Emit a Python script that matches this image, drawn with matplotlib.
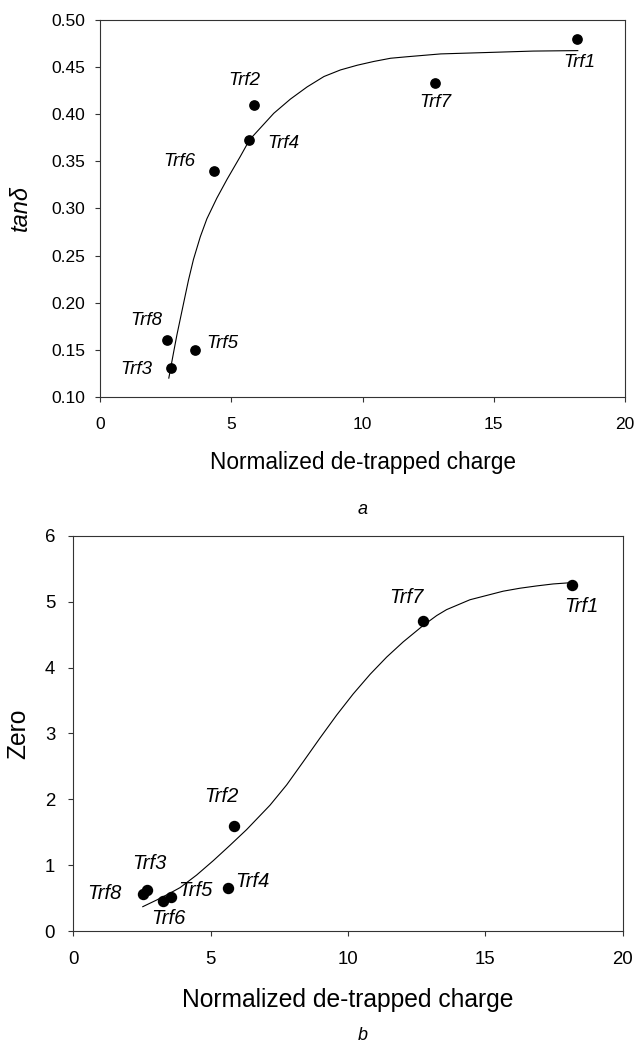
import matplotlib
matplotlib.use("Agg")
import matplotlib.pyplot as plt

plt.rcParams['font.family'] = ['Liberation Sans', 'DejaVu Sans']

# ---- panel a : tan delta ----
names = ["Trf1", "Trf2", "Trf3", "Trf4", "Trf5", "Trf6", "Trf7", "Trf8"]
charge_a = [18.17, 5.88, 2.71, 5.69, 3.60, 4.33, 12.76, 2.57]
tand = [0.480, 0.410, 0.131, 0.373, 0.150, 0.340, 0.4335, 0.160]

# fitted curve
fit_a_x = [2.62, 2.80, 2.93, 3.21, 3.37, 3.56, 3.82, 4.07, 4.45, 4.84, 5.34,
           5.70, 6.62, 7.25, 7.89, 8.53, 9.16, 9.80, 10.43, 11.07, 11.70,
           12.98, 14.76, 16.50, 18.20]
fit_a_y = [0.120, 0.147, 0.166, 0.203, 0.224, 0.246, 0.270, 0.289, 0.311,
           0.331, 0.355, 0.373, 0.401, 0.416, 0.429, 0.440, 0.447, 0.452,
           0.456, 0.4594, 0.461, 0.464, 0.4655, 0.467, 0.4675]

# label positions (text centre) for panel a
lab_a_x = [18.26, 5.50, 1.40, 6.97, 4.64, 3.03, 12.76, 1.78]
lab_a_y = [0.4547, 0.4353, 0.129, 0.369, 0.157, 0.350, 0.4127, 0.181]

# ---- panel b : Zero ----
charge_b = [18.17, 5.85, 2.67, 5.62, 3.56, 3.28, 12.74, 2.53]
zero = [5.254, 1.60, 0.624, 0.659, 0.519, 0.455, 4.712, 0.556]

fit_b_x = [2.53, 3.03, 3.52, 3.89, 4.49, 5.10, 5.70, 6.31, 7.16, 7.77, 8.37,
           8.98, 9.59, 10.19, 10.81, 11.41, 12.01, 12.74, 13.23, 13.59,
           14.44, 15.65, 16.26, 16.87, 17.47, 18.14]
fit_b_y = [0.37, 0.47, 0.575, 0.66, 0.85, 1.07, 1.30, 1.54, 1.91, 2.22, 2.57,
           2.93, 3.28, 3.60, 3.90, 4.16, 4.39, 4.64, 4.79, 4.88, 5.03, 5.16,
           5.205, 5.24, 5.27, 5.29]

lab_b_x = [18.51, 5.38, 2.76, 6.53, 4.46, 3.48, 12.14, 1.12]
lab_b_y = [4.93, 2.038, 1.031, 0.745, 0.613, 0.19, 5.07, 0.571]

fig = plt.figure(figsize=(6.4, 10.46), dpi=100)

ax1 = fig.add_axes([0.1563, 0.6205, 0.8203, 0.3604])
ax2 = fig.add_axes([0.1145, 0.1099, 0.8584, 0.3778])

spine_col = "#333333"


def style(ax, tick_size, pad_x, pad_y):
    for s in ax.spines.values():
        s.set_linewidth(0.8)
        s.set_color(spine_col)
    ax.tick_params(direction="out", length=3.5, width=0.8, color=spine_col,
                   labelsize=tick_size, top=False, right=False)
    ax.tick_params(axis="x", pad=pad_x)
    ax.tick_params(axis="y", pad=pad_y)


# panel a
ax1.plot(fit_a_x, fit_a_y, color="black", lw=0.8)
ax1.plot(charge_a, tand, "o", color="black", ms=6.7)
for n, x, y in zip(names, lab_a_x, lab_a_y):
    ax1.text(x, y, n, style="italic", fontsize=13.5, ha="center", va="center")
ax1.set_xlim(0, 20)
ax1.set_ylim(0.10, 0.50)
ax1.set_xticks([0, 5, 10, 15, 20])
ax1.set_yticks([0.10, 0.15, 0.20, 0.25, 0.30, 0.35, 0.40, 0.45, 0.50])
ax1.set_yticklabels(["%.2f" % v for v in ax1.get_yticks()])
style(ax1, 12.5, 11, 7)
ax1.set_xlabel("Normalized de-trapped charge", fontsize=16.3, va="center")
ax1.xaxis.set_label_coords(0.5, -0.173)
ax1.set_ylabel("tanδ", fontsize=17, style="italic", va="center")
ax1.yaxis.set_label_coords(-0.152, 0.5)

# panel b
ax2.plot(fit_b_x, fit_b_y, color="black", lw=0.8)
ax2.plot(charge_b, zero, "o", color="black", ms=7.2)
for n, x, y in zip(names, lab_b_x, lab_b_y):
    ax2.text(x, y, n, style="italic", fontsize=14.5, ha="center", va="center")
ax2.set_xlim(0, 20)
ax2.set_ylim(0, 6)
ax2.set_xticks([0, 5, 10, 15, 20])
ax2.set_yticks([0, 1, 2, 3, 4, 5, 6])
style(ax2, 13.4, 11, 9.5)
ax2.set_xlabel("Normalized de-trapped charge", fontsize=17.7, va="center")
ax2.xaxis.set_label_coords(0.5, -0.174)
ax2.set_ylabel("Zero", fontsize=17.7, va="center")
ax2.yaxis.set_label_coords(-0.100, 0.5)

fig.text(0.567, 1 - 509 / 1046, "a", style="italic", fontsize=13,
         ha="center", va="center")
fig.text(0.567, 1 - 1036 / 1046, "b", style="italic", fontsize=13,
         ha="center", va="center")

fig.savefig("out.png", dpi=100)
